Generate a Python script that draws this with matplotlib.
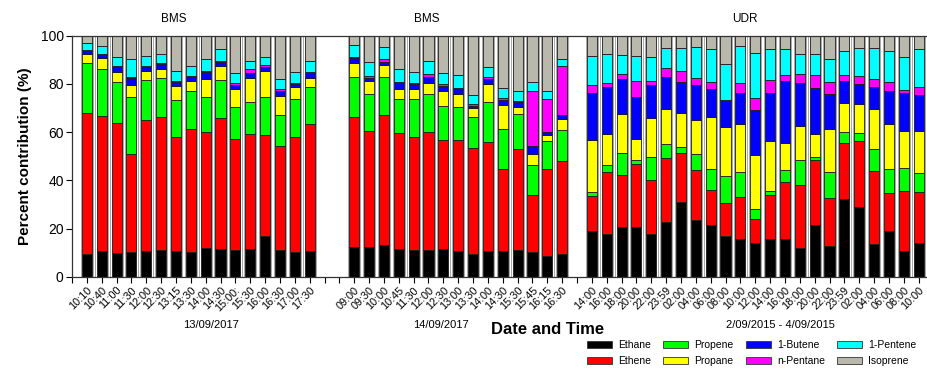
import matplotlib
matplotlib.use('Agg')
import matplotlib.pyplot as plt
from matplotlib.patches import Patch
import numpy as np

plt.rcParams['font.family'] = ['Liberation Sans', 'DejaVu Sans']

# tick labels of each group
horas_13 = ['10:10', '10:40', '11:00', '11:30', '12:00', '12:30', '13:15', '13:30',
            '14:00', '14:30', '15:00:', '15:30', '16:00', '16:30', '17:00', '17:30']
horas_14 = ['09:00', '09:30', '10:00', '10:45', '11:30', '12:00', '12:30', '13:00',
            '13:30', '14:00', '14:30', '15:30', '15:45', '16:15', '16:30']
horas_udr = ['14:00', '16:00', '18:00', '20:00', '22:00', '23:59', '02:00', '04:00',
             '06:00', '08:00', '10:00', '12:00', '14:00', '16:00', '18:00', '20:00',
             '22:00', '23:59', '02:00', '04:00', '06:00', '08:00', '10:00']

grupos = ['13/09/2017', '14/09/2017', '2/09/2015 - 4/09/2015']
titulos = ['BMS', 'BMS', 'UDR']

# percent contribution per species (BMS 13/09, BMS 14/09, UDR)
ethane = [9.3, 10.6, 9.7, 10.1, 10.6, 11.1, 10.6, 10.4, 11.8, 11.3, 11.1, 11.3, 17.0, 11.1, 10.1, 10.6,
          12.2, 12.2, 13.0, 11.3, 11.1, 11.1, 11.3, 10.6, 9.4, 10.6, 10.6, 11.1, 10.4, 8.7, 9.4,
          19.1, 17.6, 20.7, 20.7, 17.6, 22.8, 30.8, 23.5, 21.4, 16.9, 15.5, 14.1, 15.6, 15.6, 12.0,
          21.3, 12.7, 32.1, 28.8, 13.6, 19.1, 10.6, 14.1]
ethene = [58.5, 56.0, 53.9, 40.8, 54.4, 55.0, 47.4, 50.9, 48.4, 54.4, 45.9, 47.9, 41.8, 43.3, 47.7, 52.6,
          54.2, 48.3, 54.1, 48.4, 47.0, 49.1, 45.4, 46.1, 43.8, 45.1, 34.0, 41.9, 23.5, 35.8, 38.7,
          14.4, 25.7, 21.4, 26.0, 22.5, 26.3, 20.7, 20.7, 14.5, 13.6, 17.4, 9.8, 18.3, 23.8, 26.0,
          27.0, 19.8, 23.2, 27.7, 30.3, 15.5, 25.0, 20.9]
propene = [20.7, 19.4, 17.3, 23.8, 16.6, 16.2, 15.5, 15.9, 14.2, 15.9, 13.3, 13.4, 15.6, 12.9, 15.9, 15.4,
           16.3, 15.2, 15.9, 14.0, 15.6, 15.5, 14.2, 13.6, 13.1, 16.6, 16.5, 14.4, 12.4, 11.8, 12.7,
           1.8, 3.0, 9.3, 1.7, 9.7, 5.9, 2.4, 6.6, 8.6, 11.1, 10.4, 4.1, 1.7, 4.8, 10.4,
           1.4, 10.8, 4.8, 3.3, 9.0, 10.1, 9.5, 8.2]
propane = [3.9, 4.6, 4.1, 4.8, 3.9, 3.7, 5.8, 4.0, 7.6, 5.9, 7.5, 10.0, 11.1, 7.5, 5.1, 4.0,
           5.8, 5.3, 4.8, 4.1, 4.1, 4.8, 6.1, 5.5, 3.5, 7.5, 10.1, 3.2, 4.8, 2.5, 4.8,
           21.4, 13.1, 16.3, 8.6, 16.2, 14.4, 14.1, 14.1, 21.6, 20.7, 20.1, 22.4, 20.7, 11.3, 14.2,
           9.7, 17.8, 12.0, 11.9, 16.6, 18.5, 15.4, 17.3]
butene = [1.4, 1.2, 2.1, 2.8, 1.7, 2.1, 1.5, 1.8, 2.8, 1.4, 1.8, 1.8, 1.7, 2.4, 1.1, 1.8,
          2.4, 1.4, 1.4, 2.4, 2.1, 2.5, 2.1, 2.1, 1.1, 2.1, 2.1, 1.8, 3.2, 1.4, 1.4,
          19.4, 19.4, 14.5, 17.4, 13.6, 13.3, 12.9, 14.8, 11.8, 10.7, 12.7, 18.9, 20.1, 25.6, 17.8,
          18.7, 14.9, 9.0, 8.2, 9.4, 14.0, 15.8, 14.7]
n_pentane = [0.3, 0.4, 0.4, 0.7, 0.3, 0.4, 0.4, 0.3, 0.7, 0.7, 0.7, 1.7, 0.7, 0.7, 0.6, 0.7,
             0.4, 0.7, 1.0, 0.7, 0.3, 1.0, 0.7, 0.6, 0.7, 0.8, 1.0, 0.7, 22.7, 13.6, 20.5,
             3.5, 1.4, 1.8, 6.8, 1.7, 4.1, 4.6, 2.9, 3.0, 0.4, 4.1, 4.8, 5.3, 2.5, 3.9,
             5.4, 4.8, 2.8, 3.2, 3.0, 3.5, 1.1, 3.7]
pentene = [2.8, 3.6, 3.7, 7.2, 3.9, 4.1, 4.1, 4.3, 4.8, 4.7, 4.1, 3.6, 3.2, 4.3, 4.6, 4.6,
           4.8, 5.8, 5.0, 5.1, 4.8, 5.5, 4.6, 5.0, 3.7, 4.4, 3.9, 4.1, 3.9, 3.3, 3.0,
           11.8, 12.0, 7.9, 10.5, 9.8, 7.9, 9.3, 12.7, 13.6, 14.8, 15.6, 18.8, 12.9, 10.7, 8.3,
           8.7, 9.7, 9.7, 12.0, 12.9, 13.0, 13.8, 15.5]
isoprene = [3.2, 4.2, 8.7, 9.8, 8.7, 7.3, 14.5, 12.4, 9.7, 5.7, 15.6, 10.4, 9.0, 18.0, 14.9, 10.4,
            3.9, 11.2, 4.8, 14.0, 14.9, 10.5, 15.6, 16.6, 24.6, 12.9, 21.9, 22.8, 19.1, 23.0, 9.4,
            8.7, 7.7, 8.0, 8.3, 9.0, 5.3, 5.3, 4.6, 5.5, 11.9, 4.1, 6.9, 5.5, 5.7, 7.3,
            8.0, 9.4, 6.4, 5.0, 5.3, 6.4, 8.7, 5.7]

especies = [('Ethane', ethane, '#000000'), ('Ethene', ethene, '#ff0000'),
            ('Propene', propene, '#00ff00'), ('Propane', propane, '#ffff00'),
            ('1-Butene', butene, '#0000ff'), ('n-Pentane', n_pentane, '#ff00ff'),
            ('1-Pentene', pentene, '#00ffff'), ('Isoprene', isoprene, '#b8b8ac')]

# slot positions: one empty slot at start, 2 empty between BMS days, 1 before UDR
n1, n2, n3 = len(horas_13), len(horas_14), len(horas_udr)
pos = np.concatenate([np.arange(n1), np.arange(n2) + n1 + 2, np.arange(n3) + n1 + n2 + 3])
todas_horas = horas_13 + horas_14 + horas_udr

fig = plt.figure(figsize=(9.28, 3.68), dpi=100)
ax = fig.add_axes([72 / 928, 91.3 / 368, 856 / 928, 241 / 368])

# thin frame round each bar
ax.bar(pos, 100, width=0.84, color='white', edgecolor='#9a9a9a', linewidth=0.6, zorder=1)

base = np.zeros(len(pos))
for nome, valores, cor in especies:
    valores = np.array(valores)
    ax.bar(pos, valores, bottom=base, width=0.68, color=cor, edgecolor='#1a1a1a',
           linewidth=0.6, zorder=2)
    base += valores

ax.set_xlim(-1, 56.63)
ax.set_ylim(0, 100)
ax.set_yticks([0, 20, 40, 60, 80, 100])
ax.tick_params(axis='y', direction='out', length=4, width=0.8, labelsize=10, pad=2)

ticks = np.arange(-1, pos[-1] + 1)
rotulos = []
for t in ticks:
    idx = np.where(pos == t)[0]
    rotulos.append(todas_horas[idx[0]] if len(idx) else '')
ax.set_xticks(ticks)
ax.set_xticklabels(rotulos, rotation=45, ha='right', rotation_mode='anchor', fontsize=7.8)
ax.tick_params(axis='x', direction='out', length=4, width=0.8, pad=2)

for lado in ['left', 'top', 'bottom']:
    ax.spines[lado].set_linewidth(0.9)
    ax.spines[lado].set_color('#333333')
ax.spines['right'].set_visible(False)

ax.set_ylabel('Percent contribution (%)', fontsize=11, fontweight='bold', labelpad=6)

# titles above and group labels below each block
for x, t in zip([174, 427, 745], titulos):
    fig.text(x / 928, 1 - 19 / 368, t, ha='center', va='center', fontsize=8.5)
for x, g in zip([211, 441, 780], grupos):
    fig.text(x / 928, 1 - 325 / 368, g, ha='center', va='center', fontsize=8)
fig.text(548 / 928, 1 - 329 / 368, 'Date and Time', ha='center', va='center',
         fontsize=12, fontweight='bold')

handles = [Patch(facecolor=c, edgecolor='#333333', linewidth=0.6, label=n) for n, v, c in especies]
fig.legend(handles=handles, ncol=4, loc='upper left', bbox_to_anchor=(587 / 928, 1 - 340 / 368),
           frameon=False, fontsize=7.5, handlelength=2.4, handleheight=0.65,
           handletextpad=0.6, columnspacing=1.15, labelspacing=0.6, borderpad=0,
           borderaxespad=0)

fig.savefig('out.png', dpi=100)
